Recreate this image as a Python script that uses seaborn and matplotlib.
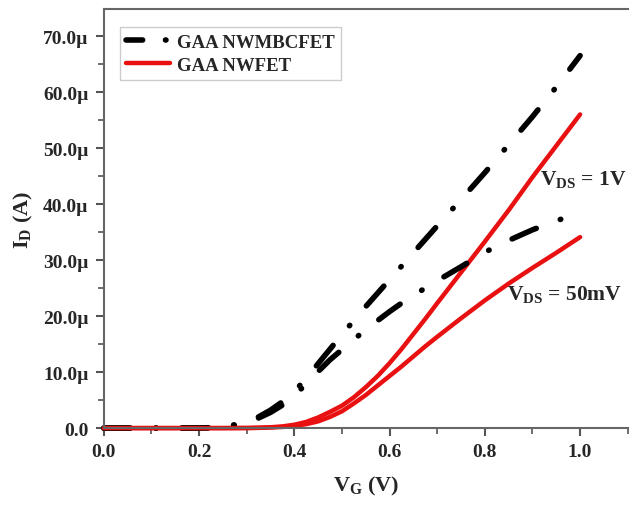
import numpy as np
import matplotlib
matplotlib.use("Agg")
import matplotlib.pyplot as plt
from matplotlib.ticker import FuncFormatter, AutoMinorLocator
import pandas as pd
import seaborn as sns

# gate voltage grid and drain currents (uA)
vg = [0.0, 0.05, 0.1, 0.15, 0.2, 0.225, 0.25, 0.275, 0.3, 0.325, 0.35,
      0.375, 0.4, 0.425, 0.45, 0.475, 0.5, 0.525, 0.55, 0.575, 0.6,
      0.625, 0.65, 0.675, 0.7, 0.75, 0.8, 0.85, 0.9, 0.95, 1.0]
mbc_1v = [0, 0, 0, 0, 0.02, 0.08, 0.2, 0.6, 1.2, 2.0, 3.2,
          4.7, 6.5, 8.9, 11.5, 14.1, 16.7, 19.2, 21.7, 24.1, 26.5,
          28.9, 31.3, 33.7, 36.1, 40.8, 45.6, 50.6, 55.6, 60.9, 66.5]
mbc_50mv = [0, 0, 0, 0, 0.02, 0.06, 0.15, 0.5, 1.0, 1.8, 2.8,
            4.1, 5.8, 7.9, 10.1, 12.2, 14, 15.8, 17.6, 19.2, 20.8,
            22.3, 23.7, 25.0, 26.3, 28.8, 31.4, 33.5, 35.4, 37, 38.5]
nw_1v = [0, 0, 0, 0, 0, 0, 0, 0.01, 0.02, 0.06, 0.15,
         0.3, 0.6, 1.1, 1.9, 2.9, 4.0, 5.5, 7.3, 9.3, 11.6,
         14.1, 16.8, 19.5, 22.3, 27.8, 33.3, 38.9, 44.8, 50.4, 56]
nw_50mv = [0, 0, 0, 0, 0, 0, 0, 0, 0.01, 0.04, 0.1,
           0.2, 0.4, 0.7, 1.2, 2.0, 3.0, 4.4, 5.9, 7.6, 9.3,
           11.0, 12.8, 14.6, 16.3, 19.6, 22.8, 25.8, 28.6, 31.3, 34.1]

sns.set_style("ticks")
plt.rcParams['font.family'] = ['Liberation Serif', 'DejaVu Serif']
plt.rcParams['font.weight'] = 'bold'
plt.rcParams['mathtext.fontset'] = 'custom'
plt.rcParams['mathtext.rm'] = 'Liberation Serif:bold'
plt.rcParams['mathtext.it'] = 'Liberation Serif:bold'
plt.rcParams['mathtext.bf'] = 'Liberation Serif:bold'

fig = plt.figure(figsize=(6.29, 5.06), dpi=100)
ax = fig.add_axes([0.165, 0.152, 0.833, 0.828])

x = np.array(vg)
red = '#e81010'
dd = (4.75, 4.6, 0.1, 4.6)


def dashdot(line, pattern=dd):
    line.set_dashes(pattern)
    line.set_dash_capstyle('round')


sns.lineplot(x=x, y=np.array(mbc_1v) * 1e-6, ax=ax, color='black', lw=4,
             label='GAA NWMBCFET')
dashdot(ax.lines[-1])
sns.lineplot(x=x, y=np.array(nw_1v) * 1e-6, ax=ax, color=red, lw=3.2,
             label='GAA NWFET')
sns.lineplot(x=x, y=np.array(mbc_50mv) * 1e-6, ax=ax, color='black', lw=4)
dashdot(ax.lines[-1])
sns.lineplot(x=x, y=np.array(nw_50mv) * 1e-6, ax=ax, color=red, lw=3.2)
for ln in ax.lines:
    ln.set_clip_on(False)
    ln.set_solid_capstyle('round')

ax.set_xlim(0, 1.1)
ax.set_ylim(0, 74.8e-6)
ax.set_xticks([0, 0.2, 0.4, 0.6, 0.8, 1.0])
ax.set_yticks(np.arange(0, 71e-6, 10e-6))
ax.xaxis.set_minor_locator(AutoMinorLocator(2))
ax.yaxis.set_minor_locator(AutoMinorLocator(2))


def ufmt(v, pos):
    if abs(v) < 1e-9:
        return '0.0'
    return '%.1f\u00b5' % (v * 1e6)


ax.yaxis.set_major_formatter(FuncFormatter(ufmt))
ax.xaxis.set_major_formatter(FuncFormatter(lambda v, p: '%.1f' % v))
ax.tick_params(which='major', direction='out', length=6, width=1.5,
               labelsize=14, color='#555555', pad=5)
ax.tick_params(which='minor', direction='out', length=4, width=1.2,
               color='#555555')
for t in ax.get_xticklabels() + ax.get_yticklabels():
    t.set_fontweight('bold')
for s in ['left', 'bottom', 'top']:
    ax.spines[s].set_color('#666666')
    ax.spines[s].set_linewidth(1.5)
ax.spines['right'].set_visible(False)

ax.set_xlabel('$\\mathregular{V_G}$ (V)', fontsize=16, fontweight='bold', labelpad=10)
ax.set_ylabel('$\\mathregular{I_D}$ (A)', fontsize=16, fontweight='bold', labelpad=6)

ax.text(0.916, 44.5e-6, '$\\mathregular{V_{DS}}$ = 1V', fontsize=15.5,
        fontweight='bold', va='center')
ax.text(0.847, 24.0e-6, '$\\mathregular{V_{DS}}$ = 50mV', fontsize=15.5,
        fontweight='bold', va='center')

leg = ax.legend(loc='upper left', bbox_to_anchor=(0.03, 0.957), borderaxespad=0,
                fancybox=False, edgecolor='#cccccc', framealpha=1,
                handlelength=2.35, handletextpad=0.35, borderpad=0.35,
                labelspacing=0.3,
                prop={'family': 'Liberation Serif', 'weight': 'bold', 'size': 13.5})
leg.get_frame().set_linewidth(1)
dashdot(leg.get_lines()[0], (3.0, 4.1, 0.1, 4.1))

fig.savefig('out.png', dpi=100)
